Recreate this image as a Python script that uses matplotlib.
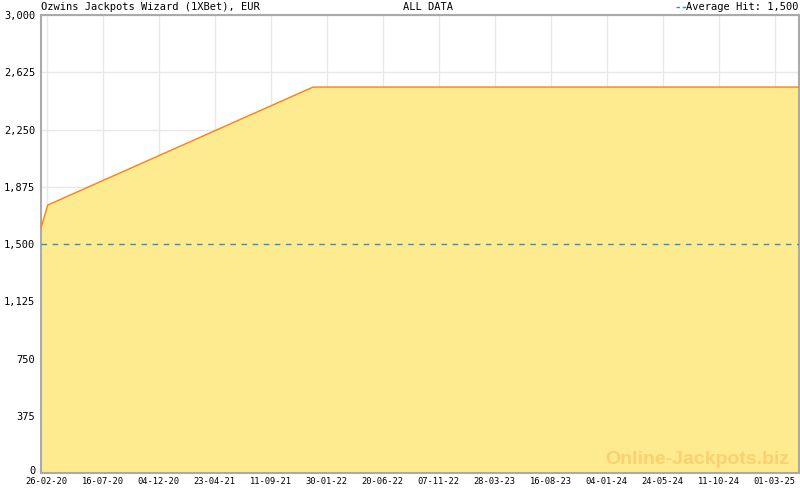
import numpy as np
import matplotlib
matplotlib.use("Agg")
import matplotlib.pyplot as plt
import matplotlib.dates as mdates
from matplotlib.transforms import ScaledTranslation

# jackpot values
dates = np.array(["2020-02-12", "2020-02-29", "2021-12-27", "2025-05-01"], dtype="datetime64[D]")
values = [1605, 1755, 2528, 2528]
average_hit = 1500

title_left = "Ozwins Jackpots Wizard (1XBet), EUR"
title_mid = "ALL DATA"
y_ticks = [0, 375, 750, 1125, 1500, 1875, 2250, 2625, 3000]
x_labels = ["26-02-20", "16-07-20", "04-12-20", "23-04-21", "11-09-21", "30-01-22", "20-06-22",
            "07-11-22", "28-03-23", "16-08-23", "04-01-24", "24-05-24", "11-10-24", "01-03-25"]
first_tick, last_tick = "2020-02-26", "2025-03-01"


def to_num(d):
    return mdates.date2num(np.datetime64(d, "s").astype(object))


fig = plt.figure(figsize=(8, 4.9), dpi=100)
ax = fig.add_axes([41 / 800, 17 / 490, 758 / 800, 458 / 490])

x = [to_num(d) for d in dates]
ax.fill_between(x, values, 0, color="#feea8f", lw=0, zorder=2)
ax.plot(x, values, color="#ff7f00", lw=1, zorder=3)
ax.axhline(average_hit, color="#3a8fc0", lw=1, ls=(0, (4, 4)), zorder=4)

# major ticks evenly spread between first and last label, 7 subdivisions
major = np.linspace(to_num(first_tick), to_num(last_tick), len(x_labels))
step = major[1] - major[0]
minor = np.arange(major[0] - step, x[-1], step / 7)
ax.set_xticks(major)
ax.set_xticks(minor, minor=True)
ax.set_xticklabels(x_labels)
ax.set_yticks(y_ticks)
ax.set_yticklabels(["{:,}".format(v) for v in y_ticks])
ax.set_xlim(x[0], x[-1])
ax.set_ylim(0, 3000)

mono = "DejaVu Sans Mono"
ax.tick_params(axis="x", which="major", direction="in", length=5, color="#aaaaaa",
               labelsize=6.3, pad=3)
ax.tick_params(axis="x", which="minor", direction="in", length=3, color="#aaaaaa")
ax.tick_params(axis="y", length=0, labelsize=7.5, pad=4)
for lab in ax.get_xticklabels() + ax.get_yticklabels():
    lab.set_family(mono)
# lift the "0" label a little so it clears the first date
zero = ax.get_yticklabels()[0]
zero.set_transform(zero.get_transform() + ScaledTranslation(0, 3 / 100, fig.dpi_scale_trans))

ax.grid(True, which="major", color="#e8e8e8", lw=1, zorder=1)
ax.set_axisbelow(True)
for s in ax.spines.values():
    s.set_color("#aaaaaa")
    s.set_linewidth(1.5)

fig.text(41 / 800, 1 - 7 / 490, title_left, family=mono, fontsize=7.5, va="center", ha="left")
fig.text(428 / 800, 1 - 7 / 490, title_mid, family=mono, fontsize=7.5, va="center", ha="center")
fig.text(799 / 800, 1 - 7 / 490, "Average Hit: 1,500", family=mono, fontsize=7.5, va="center", ha="right")
fig.lines.append(plt.Line2D([676 / 800, 690 / 800], [1 - 7 / 490] * 2, transform=fig.transFigure,
                            color="#3a8fc0", lw=1, ls=(0, (2.5, 2))))

ax.text(0.987, 0.012, "Online-Jackpots.biz", transform=ax.transAxes, ha="right", va="bottom",
        fontsize=14, fontweight="bold", color="#fcd070", family="Liberation Sans", zorder=5)

fig.savefig("out.png", dpi=100)
